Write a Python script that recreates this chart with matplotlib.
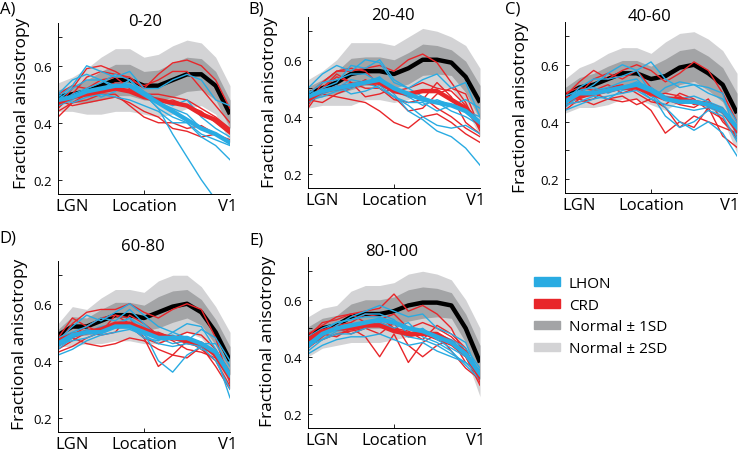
import numpy as np
import matplotlib
matplotlib.use("Agg")
import matplotlib.pyplot as plt
from matplotlib.patches import Patch

plt.rcParams['font.family'] = ['Open Sans', 'DejaVu Sans']

# Location along the optic radiation, LGN (0) -> V1 (1)
location = [0, 1/12, 2/12, 3/12, 4/12, 5/12, 6/12, 7/12, 8/12, 9/12, 10/12, 11/12, 1]

# ---- A) 0-20
norm_mean_a = [0.49, 0.50, 0.51, 0.53, 0.55, 0.55, 0.53, 0.53, 0.55, 0.57, 0.57, 0.53, 0.43]
norm_sd_a = [0.025, 0.03, 0.04, 0.05, 0.055, 0.055, 0.05, 0.055, 0.06, 0.06, 0.055, 0.05, 0.05]
crd_mean_a = [0.47, 0.49, 0.50, 0.51, 0.52, 0.51, 0.49, 0.48, 0.47, 0.46, 0.43, 0.41, 0.37]
lhon_mean_a = [0.48, 0.49, 0.51, 0.52, 0.53, 0.53, 0.50, 0.47, 0.44, 0.41, 0.38, 0.36, 0.33]
crd_a = [
    [0.45, 0.50, 0.56, 0.58, 0.57, 0.56, 0.52, 0.57, 0.61, 0.62, 0.60, 0.55, 0.45],
    [0.46, 0.52, 0.59, 0.60, 0.58, 0.55, 0.53, 0.55, 0.58, 0.58, 0.52, 0.46, 0.40],
    [0.44, 0.47, 0.48, 0.50, 0.50, 0.46, 0.42, 0.40, 0.40, 0.38, 0.39, 0.36, 0.33],
    [0.48, 0.46, 0.47, 0.48, 0.49, 0.47, 0.44, 0.42, 0.38, 0.37, 0.35, 0.36, 0.34],
    [0.50, 0.53, 0.52, 0.55, 0.56, 0.52, 0.50, 0.47, 0.48, 0.46, 0.44, 0.40, 0.36],
    [0.42, 0.47, 0.50, 0.52, 0.54, 0.53, 0.50, 0.50, 0.49, 0.48, 0.45, 0.42, 0.38],
]
lhon_a = [
    [0.48, 0.52, 0.55, 0.55, 0.53, 0.53, 0.50, 0.45, 0.36, 0.28, 0.20, 0.13, 0.08],
    [0.50, 0.55, 0.57, 0.55, 0.52, 0.55, 0.50, 0.45, 0.42, 0.40, 0.35, 0.32, 0.27],
    [0.49, 0.53, 0.60, 0.58, 0.56, 0.58, 0.52, 0.52, 0.55, 0.57, 0.55, 0.48, 0.46],
    [0.47, 0.50, 0.52, 0.54, 0.57, 0.55, 0.50, 0.47, 0.45, 0.43, 0.38, 0.36, 0.33],
    [0.50, 0.47, 0.49, 0.50, 0.49, 0.48, 0.46, 0.44, 0.40, 0.40, 0.36, 0.34, 0.32],
    [0.46, 0.48, 0.52, 0.49, 0.51, 0.55, 0.51, 0.48, 0.46, 0.48, 0.42, 0.38, 0.35],
]

# ---- B) 20-40
norm_mean_b = [0.48, 0.50, 0.52, 0.55, 0.56, 0.56, 0.55, 0.57, 0.60, 0.60, 0.59, 0.54, 0.45]
norm_sd_b = [0.025, 0.03, 0.04, 0.055, 0.05, 0.05, 0.05, 0.055, 0.055, 0.05, 0.045, 0.055, 0.06]
crd_mean_b = [0.46, 0.49, 0.50, 0.51, 0.52, 0.52, 0.49, 0.48, 0.49, 0.49, 0.46, 0.43, 0.37]
lhon_mean_b = [0.47, 0.49, 0.50, 0.51, 0.52, 0.53, 0.50, 0.48, 0.46, 0.45, 0.44, 0.42, 0.38]
crd_b = [
    [0.44, 0.52, 0.56, 0.56, 0.57, 0.58, 0.56, 0.60, 0.62, 0.59, 0.52, 0.45, 0.35],
    [0.45, 0.48, 0.47, 0.46, 0.45, 0.42, 0.38, 0.36, 0.40, 0.41, 0.38, 0.34, 0.31],
    [0.43, 0.50, 0.55, 0.52, 0.47, 0.48, 0.50, 0.47, 0.47, 0.43, 0.40, 0.36, 0.33],
    [0.46, 0.45, 0.48, 0.50, 0.53, 0.50, 0.46, 0.45, 0.46, 0.52, 0.47, 0.38, 0.34],
    [0.48, 0.52, 0.56, 0.57, 0.56, 0.51, 0.49, 0.50, 0.52, 0.50, 0.49, 0.44, 0.38],
    [0.47, 0.50, 0.54, 0.52, 0.50, 0.50, 0.47, 0.42, 0.43, 0.48, 0.50, 0.48, 0.36],
]
lhon_b = [
    [0.48, 0.52, 0.53, 0.55, 0.55, 0.52, 0.48, 0.42, 0.39, 0.35, 0.33, 0.29, 0.23],
    [0.50, 0.55, 0.58, 0.56, 0.60, 0.59, 0.52, 0.50, 0.47, 0.45, 0.42, 0.40, 0.37],
    [0.47, 0.50, 0.52, 0.58, 0.57, 0.60, 0.53, 0.50, 0.53, 0.55, 0.50, 0.52, 0.40],
    [0.46, 0.47, 0.49, 0.50, 0.52, 0.50, 0.47, 0.44, 0.40, 0.37, 0.36, 0.37, 0.34],
    [0.49, 0.48, 0.50, 0.53, 0.52, 0.54, 0.49, 0.47, 0.44, 0.46, 0.44, 0.42, 0.40],
    [0.45, 0.48, 0.51, 0.48, 0.49, 0.51, 0.47, 0.45, 0.45, 0.42, 0.44, 0.46, 0.43],
]

# ---- C) 40-60
norm_mean_c = [0.49, 0.52, 0.53, 0.55, 0.57, 0.57, 0.55, 0.56, 0.59, 0.60, 0.57, 0.53, 0.43]
norm_sd_c = [0.03, 0.035, 0.04, 0.045, 0.045, 0.045, 0.045, 0.06, 0.06, 0.058, 0.06, 0.06, 0.07]
crd_mean_c = [0.48, 0.49, 0.50, 0.51, 0.52, 0.52, 0.50, 0.48, 0.48, 0.47, 0.46, 0.44, 0.37]
lhon_mean_c = [0.47, 0.50, 0.50, 0.51, 0.52, 0.53, 0.51, 0.48, 0.47, 0.47, 0.46, 0.44, 0.38]
crd_c = [
    [0.49, 0.54, 0.58, 0.55, 0.58, 0.60, 0.58, 0.54, 0.57, 0.61, 0.58, 0.50, 0.40],
    [0.47, 0.48, 0.46, 0.48, 0.47, 0.48, 0.44, 0.36, 0.40, 0.38, 0.45, 0.35, 0.31],
    [0.45, 0.50, 0.55, 0.57, 0.55, 0.58, 0.52, 0.48, 0.46, 0.45, 0.48, 0.40, 0.35],
    [0.44, 0.48, 0.50, 0.48, 0.49, 0.46, 0.48, 0.45, 0.38, 0.42, 0.40, 0.38, 0.36],
    [0.50, 0.52, 0.51, 0.53, 0.50, 0.52, 0.49, 0.50, 0.49, 0.46, 0.47, 0.43, 0.38],
    [0.46, 0.47, 0.48, 0.52, 0.53, 0.50, 0.47, 0.46, 0.50, 0.48, 0.44, 0.41, 0.34],
]
lhon_c = [
    [0.47, 0.52, 0.55, 0.55, 0.56, 0.58, 0.61, 0.55, 0.52, 0.53, 0.52, 0.50, 0.34],
    [0.45, 0.49, 0.51, 0.52, 0.54, 0.55, 0.50, 0.45, 0.40, 0.37, 0.40, 0.36, 0.28],
    [0.48, 0.50, 0.53, 0.57, 0.60, 0.58, 0.50, 0.42, 0.38, 0.40, 0.44, 0.42, 0.33],
    [0.46, 0.47, 0.49, 0.48, 0.51, 0.52, 0.48, 0.52, 0.54, 0.53, 0.50, 0.48, 0.40],
    [0.49, 0.51, 0.52, 0.50, 0.52, 0.54, 0.52, 0.49, 0.48, 0.49, 0.47, 0.45, 0.36],
    [0.44, 0.46, 0.48, 0.49, 0.50, 0.51, 0.48, 0.46, 0.45, 0.44, 0.45, 0.43, 0.37],
]

# ---- D) 60-80
norm_mean_d = [0.49, 0.52, 0.52, 0.54, 0.56, 0.56, 0.55, 0.57, 0.59, 0.60, 0.57, 0.50, 0.40]
norm_sd_d = [0.02, 0.035, 0.03, 0.04, 0.045, 0.045, 0.045, 0.055, 0.055, 0.05, 0.045, 0.045, 0.05]
crd_mean_d = [0.47, 0.49, 0.50, 0.51, 0.53, 0.53, 0.51, 0.49, 0.48, 0.47, 0.46, 0.42, 0.34]
lhon_mean_d = [0.46, 0.49, 0.50, 0.50, 0.52, 0.52, 0.50, 0.48, 0.48, 0.48, 0.46, 0.43, 0.35]
crd_d = [
    [0.46, 0.53, 0.57, 0.58, 0.58, 0.60, 0.57, 0.55, 0.58, 0.60, 0.58, 0.48, 0.32],
    [0.43, 0.45, 0.48, 0.50, 0.56, 0.55, 0.48, 0.38, 0.42, 0.47, 0.44, 0.40, 0.31],
    [0.45, 0.48, 0.46, 0.45, 0.46, 0.48, 0.47, 0.44, 0.42, 0.41, 0.45, 0.38, 0.30],
    [0.48, 0.55, 0.52, 0.55, 0.56, 0.53, 0.50, 0.50, 0.48, 0.46, 0.45, 0.43, 0.33],
    [0.44, 0.47, 0.50, 0.49, 0.50, 0.56, 0.53, 0.49, 0.47, 0.44, 0.43, 0.41, 0.34],
    [0.46, 0.49, 0.52, 0.50, 0.53, 0.52, 0.48, 0.46, 0.48, 0.50, 0.49, 0.44, 0.36],
]
lhon_d = [
    [0.47, 0.52, 0.56, 0.54, 0.57, 0.60, 0.56, 0.52, 0.50, 0.53, 0.52, 0.44, 0.35],
    [0.45, 0.48, 0.50, 0.52, 0.53, 0.55, 0.50, 0.40, 0.36, 0.42, 0.45, 0.40, 0.30],
    [0.42, 0.44, 0.47, 0.49, 0.50, 0.51, 0.49, 0.46, 0.45, 0.46, 0.45, 0.42, 0.27],
    [0.48, 0.50, 0.52, 0.55, 0.54, 0.58, 0.53, 0.48, 0.49, 0.47, 0.46, 0.46, 0.38],
    [0.46, 0.47, 0.48, 0.50, 0.53, 0.52, 0.48, 0.47, 0.50, 0.48, 0.44, 0.43, 0.33],
    [0.44, 0.48, 0.51, 0.50, 0.52, 0.55, 0.52, 0.48, 0.46, 0.47, 0.51, 0.48, 0.40],
]

# ---- E) 80-100
norm_mean_e = [0.47, 0.50, 0.51, 0.54, 0.55, 0.55, 0.56, 0.58, 0.59, 0.59, 0.58, 0.50, 0.38]
norm_sd_e = [0.035, 0.035, 0.035, 0.045, 0.05, 0.05, 0.05, 0.055, 0.055, 0.05, 0.045, 0.05, 0.06]
crd_mean_e = [0.46, 0.49, 0.50, 0.50, 0.51, 0.51, 0.49, 0.48, 0.48, 0.48, 0.45, 0.41, 0.33]
lhon_mean_e = [0.44, 0.48, 0.50, 0.51, 0.52, 0.53, 0.52, 0.50, 0.49, 0.47, 0.45, 0.41, 0.34]
crd_e = [
    [0.48, 0.51, 0.54, 0.55, 0.56, 0.57, 0.62, 0.56, 0.58, 0.55, 0.50, 0.40, 0.30],
    [0.45, 0.48, 0.47, 0.50, 0.47, 0.40, 0.48, 0.38, 0.45, 0.48, 0.42, 0.36, 0.32],
    [0.44, 0.46, 0.48, 0.49, 0.50, 0.48, 0.52, 0.44, 0.40, 0.44, 0.46, 0.38, 0.33],
    [0.47, 0.52, 0.53, 0.55, 0.52, 0.53, 0.55, 0.50, 0.52, 0.50, 0.47, 0.42, 0.34],
    [0.46, 0.48, 0.50, 0.48, 0.50, 0.52, 0.50, 0.47, 0.48, 0.46, 0.44, 0.40, 0.35],
    [0.43, 0.47, 0.51, 0.52, 0.55, 0.54, 0.50, 0.49, 0.46, 0.51, 0.48, 0.43, 0.31],
]
lhon_e = [
    [0.41, 0.44, 0.46, 0.47, 0.47, 0.48, 0.46, 0.44, 0.45, 0.42, 0.40, 0.38, 0.34],
    [0.43, 0.48, 0.51, 0.54, 0.56, 0.58, 0.56, 0.54, 0.55, 0.50, 0.48, 0.45, 0.33],
    [0.45, 0.49, 0.52, 0.53, 0.55, 0.55, 0.53, 0.48, 0.50, 0.46, 0.43, 0.40, 0.35],
    [0.44, 0.46, 0.48, 0.48, 0.50, 0.52, 0.50, 0.52, 0.47, 0.45, 0.42, 0.37, 0.32],
    [0.47, 0.50, 0.52, 0.53, 0.54, 0.54, 0.52, 0.50, 0.49, 0.48, 0.46, 0.43, 0.36],
    [0.42, 0.46, 0.49, 0.50, 0.51, 0.52, 0.49, 0.47, 0.46, 0.44, 0.41, 0.38, 0.33],
]

titles = ["0-20", "20-40", "40-60", "60-80", "80-100"]
letters = ["A)", "B)", "C)", "D)", "E)"]

LHON_C = "#29abe2"
CRD_C = "#e8262a"
SD1_C = "#a3a4a6"
SD2_C = "#d3d3d5"

W, H = 742, 452
fig = plt.figure(figsize=(W / 100, H / 100), dpi=100)

def fx(px):
    return px / W

def fy(py):
    return 1 - py / H

panels = [
    # left, top (pixels), data, title pos, letter pos, ylabel pos
    dict(box=(58, 24), norm=(norm_mean_a, norm_sd_a), crd=(crd_mean_a, crd_a), lhon=(lhon_mean_a, lhon_a),
         tpos=(145, 22), lpos=(8, 9), ypos=(22, 103), v1=0.985),
    dict(box=(308, 18), norm=(norm_mean_b, norm_sd_b), crd=(crd_mean_b, crd_b), lhon=(lhon_mean_b, lhon_b),
         tpos=(393, 16), lpos=(256, 9), ypos=(270, 102), v1=0.975),
    dict(box=(565, 23), norm=(norm_mean_c, norm_sd_c), crd=(crd_mean_c, crd_c), lhon=(lhon_mean_c, lhon_c),
         tpos=(650, 17), lpos=(513, 9), ypos=(521, 107), v1=0.96),
    dict(box=(58, 262), norm=(norm_mean_d, norm_sd_d), crd=(crd_mean_d, crd_d), lhon=(lhon_mean_d, lhon_d),
         tpos=(143, 247), lpos=(8, 239), ypos=(20, 344), v1=0.985),
    dict(box=(308, 258), norm=(norm_mean_e, norm_sd_e), crd=(crd_mean_e, crd_e), lhon=(lhon_mean_e, lhon_e),
         tpos=(392, 252), lpos=(256, 241), ypos=(268, 341), v1=0.975),
]

aw, ah = 172, 171
for i, p in enumerate(panels):
    left, top = p["box"]
    ax = fig.add_axes([fx(left), fy(top + ah), aw / W, ah / H])
    mean = np.array(p["norm"][0])
    sd = np.array(p["norm"][1])
    ax.fill_between(location, mean - 2 * sd, mean + 2 * sd, color=SD2_C, lw=0)
    ax.fill_between(location, mean - sd, mean + sd, color=SD1_C, lw=0)
    ax.plot(location, mean, color="black", lw=3.2, solid_capstyle="butt")
    for line in p["crd"][1]:
        ax.plot(location, line, color=CRD_C, lw=1.0)
    for line in p["lhon"][1]:
        ax.plot(location, line, color=LHON_C, lw=1.0)
    ax.plot(location, p["crd"][0], color=CRD_C, lw=3.2)
    ax.plot(location, p["lhon"][0], color=LHON_C, lw=3.2)

    ax.set_xlim(0, 1)
    ax.set_ylim(0.15, 0.75)
    ax.set_yticks([0.2, 0.4, 0.6])
    ax.set_yticklabels(["0.2", "0.4", "0.6"])
    ax.set_yticks([0.3, 0.5, 0.7], minor=True)
    ax.set_xticks([0.5])
    ax.set_xticklabels([""])
    ax.tick_params(axis="both", which="both", direction="in", length=3, width=0.6,
                   labelsize=9.5, pad=4.5)
    ax.spines["top"].set_visible(False)
    ax.spines["right"].set_visible(False)
    ax.spines["left"].set_linewidth(0.7)
    ax.spines["bottom"].set_linewidth(0.7)
    ax.patch.set_visible(False)

    ax.text(0.08, -0.07, "LGN", transform=ax.transAxes, ha="center", va="center", fontsize=12)
    ax.text(0.5, -0.07, "Location", transform=ax.transAxes, ha="center", va="center", fontsize=12)
    ax.text(p["v1"], -0.07, "V1", transform=ax.transAxes, ha="center", va="center", fontsize=12)

    fig.text(fx(p["tpos"][0]), fy(p["tpos"][1]), titles[i], ha="center", va="center", fontsize=12)
    fig.text(fx(p["lpos"][0]), fy(p["lpos"][1]), letters[i], ha="center", va="center", fontsize=12)
    fig.text(fx(p["ypos"][0]), fy(p["ypos"][1]), "Fractional anisotropy", rotation=90,
             ha="center", va="center", fontsize=12.5)

handles = [Patch(color=LHON_C), Patch(color=CRD_C), Patch(color=SD1_C), Patch(color=SD2_C)]
labels = ["LHON", "CRD", "Normal \u00b1 1SD", "Normal \u00b1 2SD"]
fig.legend(handles, labels, loc="upper left", bbox_to_anchor=(fx(520), fy(263)), frameon=False,
           fontsize=11, handlelength=1.7, handleheight=0.5, handletextpad=0.6, labelspacing=0.45)

fig.savefig("out.png", dpi=100)
